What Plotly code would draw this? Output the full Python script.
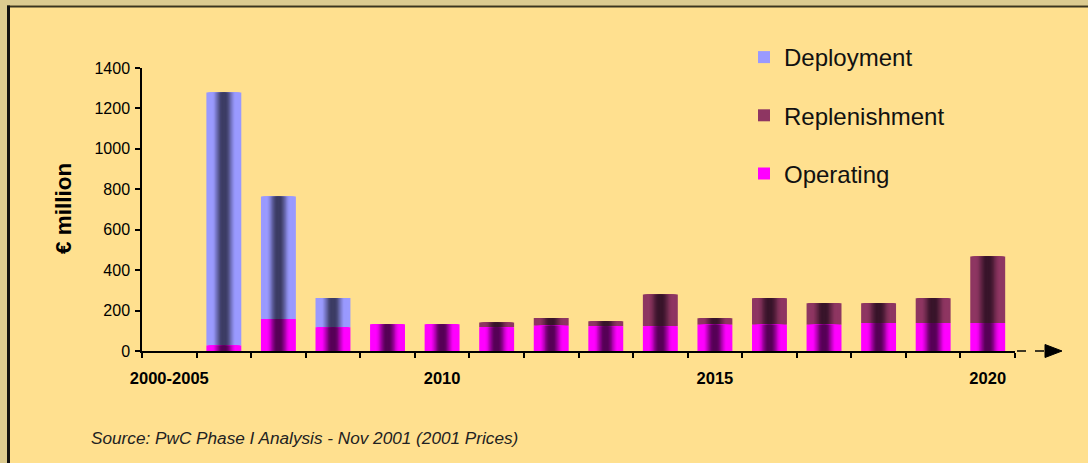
import plotly.graph_objects as go

# ---- data ----
categories = ["2000-2005", "2006", "2007", "2008", "2009", "2010", "2011", "2012",
              "2013", "2014", "2015", "2016", "2017", "2018", "2019", "2020"]
tick_labels = ["2000-2005", "", "", "", "", "2010", "", "", "", "", "2015",
               "", "", "", "", "2020"]
operating = [0, 27, 158, 117, 132, 132, 117, 125, 122, 122, 130, 130, 130, 138, 138, 138]
replenishment = [0, 0, 0, 0, 0, 0, 24, 38, 25, 157, 32, 131, 106, 98, 123, 330]
deployment = [0, 1252, 606, 145, 0, 0, 0, 0, 0, 0, 0, 0, 0, 0, 0, 0]
y_ticks = [0, 200, 400, 600, 800, 1000, 1200, 1400]
source_text = "Source: PwC Phase I Analysis - Nov 2001 (2001 Prices)"

# ---- layout geometry ----
FW, FH = 1088, 463
L, R, T, B = 142, 73, 68, 112
PW, PH = FW - L - R, FH - T - B


def px_x(p):
    return (p - L) / PW


def px_y(p):
    return (FH - B - p) / PH


def hex2rgb(h):
    h = h.lstrip("#")
    return tuple(int(h[i:i + 2], 16) for i in (0, 2, 4))


def mix(c1, c2, t):
    a, b = hex2rgb(c1), hex2rgb(c2)
    return "rgb({},{},{})".format(*[round(a[i] + (b[i] - a[i]) * t) for i in range(3)])


BAR_W = 0.64
N_LAYERS = 14

rep_base = operating[:]
dep_base = [o + r for o, r in zip(operating, replenishment)]

series = [
    ("Deployment", deployment, dep_base, "#9A9AFF", "#3C3C64"),
    ("Replenishment", replenishment, rep_base, "#8E3662", "#38142A"),
    ("Operating", operating, [0] * len(operating), "#FF00FF", "#560056"),
]

fig = go.Figure()
for gi, (name, vals, base, light, dark) in enumerate(series):
    for k in range(N_LAYERS):
        f = 1.0 - k / N_LAYERS
        u = f / 2.0
        t = max(0.0, min(1.0, (0.36 - u) / 0.30))
        t = t * t * (3 - 2 * t)
        fig.add_trace(go.Bar(
            x=categories, y=vals, base=base,
            width=BAR_W * f,
            marker=dict(color=mix(light, dark, t), line=dict(width=0)),
            name=name, legendgroup=name,
            showlegend=(k == 0),
            hoverinfo="skip" if k else None,
        ))

fig.update_layout(
    width=FW, height=FH,
    barmode="overlay",
    margin=dict(l=L, r=R, t=T, b=B, pad=0),
    paper_bgcolor="#FFE08F",
    plot_bgcolor="rgba(0,0,0,0)",
    font=dict(family="Arial, Liberation Sans, sans-serif", color="#000000"),
    showlegend=True,
    legend=dict(
        x=px_x(744), y=px_y(35), xanchor="left", yanchor="top",
        xref="paper", yref="paper",
        bgcolor="rgba(0,0,0,0)",
        font=dict(size=24, color="#111111"),
        traceorder="grouped",
        tracegroupgap=24,
        itemwidth=30,
    ),
    xaxis=dict(
        type="category",
        categoryorder="array", categoryarray=categories,
        range=[-0.5, len(categories) - 0.5],
        tickmode="array", tickvals=categories, ticktext=tick_labels,
        tickson="boundaries", tickangle=0,
        ticks="outside", ticklen=5, tickwidth=1.5, tickcolor="#000000",
        ticklabelstandoff=11,
        showline=True, linecolor="#000000", linewidth=1.5,
        showgrid=False, zeroline=False,
        tickfont=dict(size=16.5, family="Arial, Liberation Sans, sans-serif", weight="bold"),
        fixedrange=True,
    ),
    yaxis=dict(
        range=[0, 1400],
        tickmode="array", tickvals=y_ticks,
        ticks="outside", ticklen=5, tickwidth=1.5, tickcolor="#000000",
        ticklabelstandoff=2,
        showline=True, linecolor="#000000", linewidth=1.5,
        showgrid=False, zeroline=False,
        tickfont=dict(size=16),
        fixedrange=True,
    ),
)

# y-axis title
fig.add_annotation(
    text="<b>€ million</b>", textangle=-90,
    x=px_x(63), y=px_y(209), xref="paper", yref="paper",
    xanchor="center", yanchor="middle", showarrow=False,
    font=dict(size=22.5, color="#000000"),
)

# source note
fig.add_annotation(
    text="<i>" + source_text + "</i>",
    x=px_x(89), y=px_y(438), xref="paper", yref="paper",
    xanchor="left", yanchor="middle", showarrow=False,
    font=dict(size=17.2, color="#222222"),
)

shapes = []
# outer frame (tan strips + dark border lines)
shapes.append(dict(type="rect", xref="paper", yref="paper", layer="below",
                   x0=px_x(-2), x1=px_x(FW + 2), y0=px_y(-2), y1=px_y(5.5),
                   fillcolor="#DCCB90", line=dict(width=0)))
shapes.append(dict(type="rect", xref="paper", yref="paper", layer="below",
                   x0=px_x(-2), x1=px_x(7), y0=px_y(-2), y1=px_y(FH + 2),
                   fillcolor="#DCCB90", line=dict(width=0)))
shapes.append(dict(type="line", xref="paper", yref="paper", layer="below",
                   x0=px_x(7), x1=px_x(FW + 2), y0=px_y(6.5), y1=px_y(6.5),
                   line=dict(color="#3A3520", width=2)))
shapes.append(dict(type="line", xref="paper", yref="paper", layer="below",
                   x0=px_x(8.5), x1=px_x(8.5), y0=px_y(5.5), y1=px_y(FH + 2),
                   line=dict(color="#111111", width=3)))
# dashed continuation arrow on the x axis
ay = px_y(FH - B)
shapes.append(dict(type="line", xref="paper", yref="paper",
                   x0=px_x(L + PW + 2), x1=px_x(1046), y0=ay, y1=ay,
                   line=dict(color="#000000", width=1.5, dash="dash")))
shapes.append(dict(type="path", xref="paper", yref="paper",
                   path="M {a},{b} L {c},{d} L {a},{e} Z".format(
                       a=px_x(1045), b=px_y(FH - B - 6.5), c=px_x(1062),
                       d=ay, e=px_y(FH - B + 6.5)),
                   fillcolor="#000000", line=dict(color="#000000", width=1)))
fig.update_layout(shapes=shapes)

fig.write_html("out.html")
